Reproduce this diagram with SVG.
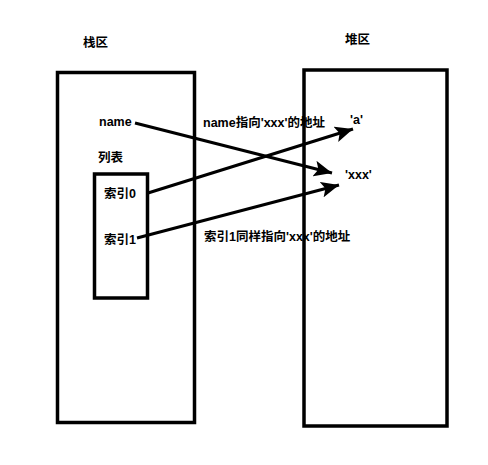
<svg xmlns="http://www.w3.org/2000/svg" width="488" height="465" viewBox="0 0 488 465">
<style>
.box{fill:none;stroke:#000;stroke-width:3.5}
.t{font-family:"Liberation Sans","Noto Sans CJK SC",sans-serif;font-size:12.5px;font-weight:bold;fill:#000}
.arr{stroke:#000;stroke-width:3;fill:none;marker-end:url(#ah)}
</style>
<defs>
<marker id="ah" markerUnits="userSpaceOnUse" markerWidth="20" markerHeight="16" refX="18" refY="8" orient="auto">
<path d="M0,0 L18,8 L0,16 L4,8 Z" fill="#000"/>
</marker>
</defs>
<rect width="488" height="465" fill="#fff"/>
<g id="stack">
<rect class="box" x="57.5" y="72.5" width="137" height="350"/>
<text class="t" x="83" y="47">栈区</text>
</g>
<g id="heap">
<rect class="box" x="304" y="70" width="143" height="356"/>
<text class="t" x="345" y="44">堆区</text>
</g>
<g id="list">
<rect class="box" x="94.5" y="174" width="53" height="124"/>
<text class="t" x="98" y="162">列表</text>
</g>
<g id="name"><text class="t" x="99" y="126">name</text></g>
<g id="idx0"><text class="t" x="104" y="198">索引0</text></g>
<g id="idx1"><text class="t" x="104" y="244">索引1</text></g>
<g id="a"><text class="t" x="350" y="124">'a'</text></g>
<g id="xxx"><text class="t" x="345" y="179">'xxx'</text></g>
<g id="labels">
<text class="t" x="203" y="127">name指向'xxx'的地址</text>
<text class="t" x="204" y="241">索引1同样指向'xxx'的地址</text>
</g>
<g id="connectors">
<line class="arr" x1="135" y1="123" x2="332" y2="173"/>
<line class="arr" x1="148" y1="193" x2="353" y2="129"/>
<line class="arr" x1="137" y1="238" x2="339" y2="185"/>
</g>
</svg>
